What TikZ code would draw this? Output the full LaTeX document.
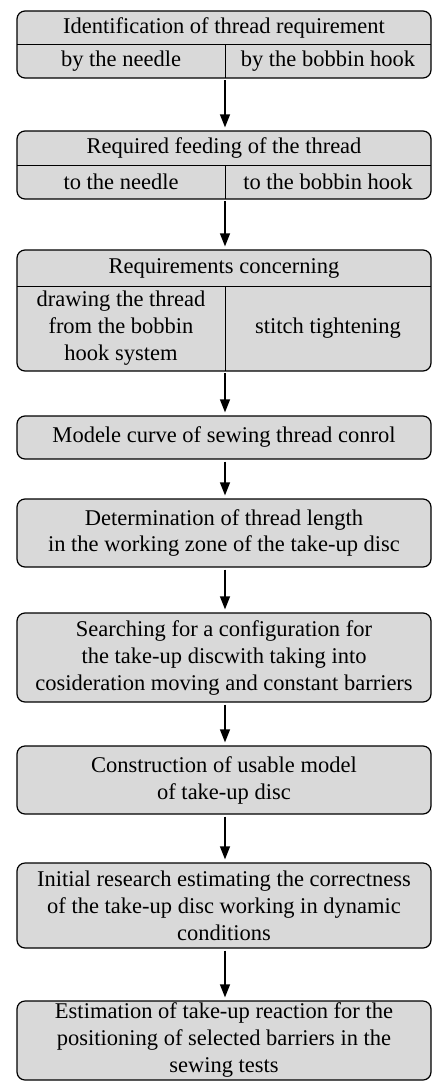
\documentclass[tikz,border=0pt]{standalone}
\usepackage{fontspec}
\setmainfont{Liberation Serif}
\usetikzlibrary{arrows.meta}
\definecolor{boxfill}{RGB}{217,217,217}
\begin{document}
\begin{tikzpicture}[x=1pt,y=-1pt,
  box/.style={draw=black,line width=1.2pt,fill=boxfill,rounded corners=8pt,inner sep=0pt},
  txt/.style={font=\fontsize{22.5}{27}\selectfont,align=center,inner sep=0pt},
  divline/.style={line width=1pt},
  flow/.style={line width=1.3pt,-{Triangle[length=13pt,width=10pt]},shorten <=2pt,shorten >=3pt}]
\useasboundingbox (0,0) rectangle (435,1081);
% boxes
\node[box,minimum width=414pt,minimum height=67pt] (b1) at (224,44.5) {};
\node[box,minimum width=414pt,minimum height=68pt] (b2) at (224,165) {};
\node[box,minimum width=414pt,minimum height=121pt] (b3) at (224,310.5) {};
\node[box,minimum width=414pt,minimum height=43pt] (b4) at (224,437.5) {};
\node[box,minimum width=414pt,minimum height=68pt] (b5) at (224,533) {};
\node[box,minimum width=414pt,minimum height=89pt] (b6) at (224,657.5) {};
\node[box,minimum width=414pt,minimum height=68pt] (b7) at (224,780) {};
\node[box,minimum width=414pt,minimum height=85pt] (b8) at (224,905.5) {};
\node[box,minimum width=414pt,minimum height=79pt] (b9) at (224,1040.5) {};
% dividers
\coordinate (d1l) at (17,45); \coordinate (d1r) at (431,45);
\coordinate (d1t) at (225,45); \coordinate (d1b) at (225,78);
\draw[divline] (d1l) -- (d1r) (d1t) -- (d1b);
\coordinate (d2l) at (17,165); \coordinate (d2r) at (431,165);
\coordinate (d2t) at (225,165); \coordinate (d2b) at (225,199);
\draw[divline] (d2l) -- (d2r) (d2t) -- (d2b);
\coordinate (d3l) at (17,286); \coordinate (d3r) at (431,286);
\coordinate (d3t) at (225,286); \coordinate (d3b) at (225,371);
\draw[divline] (d3l) -- (d3r) (d3t) -- (d3b);
% texts
\node[txt] (t1) at (224,28) {Identification of thread requirement};
\node[txt] (t1a) at (121,61.5) {by the needle};
\node[txt] (t1b) at (328,61.5) {by the bobbin hook};
\node[txt] (t2) at (224,148) {Required feeding of the thread};
\node[txt] (t2a) at (121,182) {to the needle};
\node[txt] (t2b) at (328,182) {to the bobbin hook};
\node[txt] (t3) at (224,268) {Requirements concerning};
\node[txt] (t3a) at (121,328.5) {drawing the thread\\from the bobbin\\hook system};
\node[txt] (t3b) at (328,328.5) {stitch tightening};
\node[txt] (t4) at (224,437.5) {Modele curve of sewing thread conrol};
\node[txt] (t5) at (224,533) {Determination of thread length\\in the working zone of the take-up disc};
\node[txt] (t6) at (224,657.5) {Searching for a configuration for\\the take-up discwith taking into\\cosideration moving and constant barriers};
\node[txt] (t7) at (224,780) {Construction of usable model\\of take-up disc};
\node[txt] (t8) at (224,905.5) {Initial research estimating the correctness\\of the take-up disc working in dynamic\\conditions};
\node[txt] (t9) at (224,1040) {Estimation of take-up reaction for the\\positioning of selected barriers in the\\sewing tests};
% arrows
\draw[flow] (d1b) -- (d1b |- b2.north);
\draw[flow] (d2b) -- (d2b |- b3.north);
\draw[flow] (d3b) -- (d3b |- b4.north);
\draw[flow] (d3b |- b4.south) -- (d3b |- b5.north);
\draw[flow] (d3b |- b5.south) -- (d3b |- b6.north);
\draw[flow] (d3b |- b6.south) -- (d3b |- b7.north);
\draw[flow] (d3b |- b7.south) -- (d3b |- b8.north);
\draw[flow] (d3b |- b8.south) -- (d3b |- b9.north);
\end{tikzpicture}
\end{document}
